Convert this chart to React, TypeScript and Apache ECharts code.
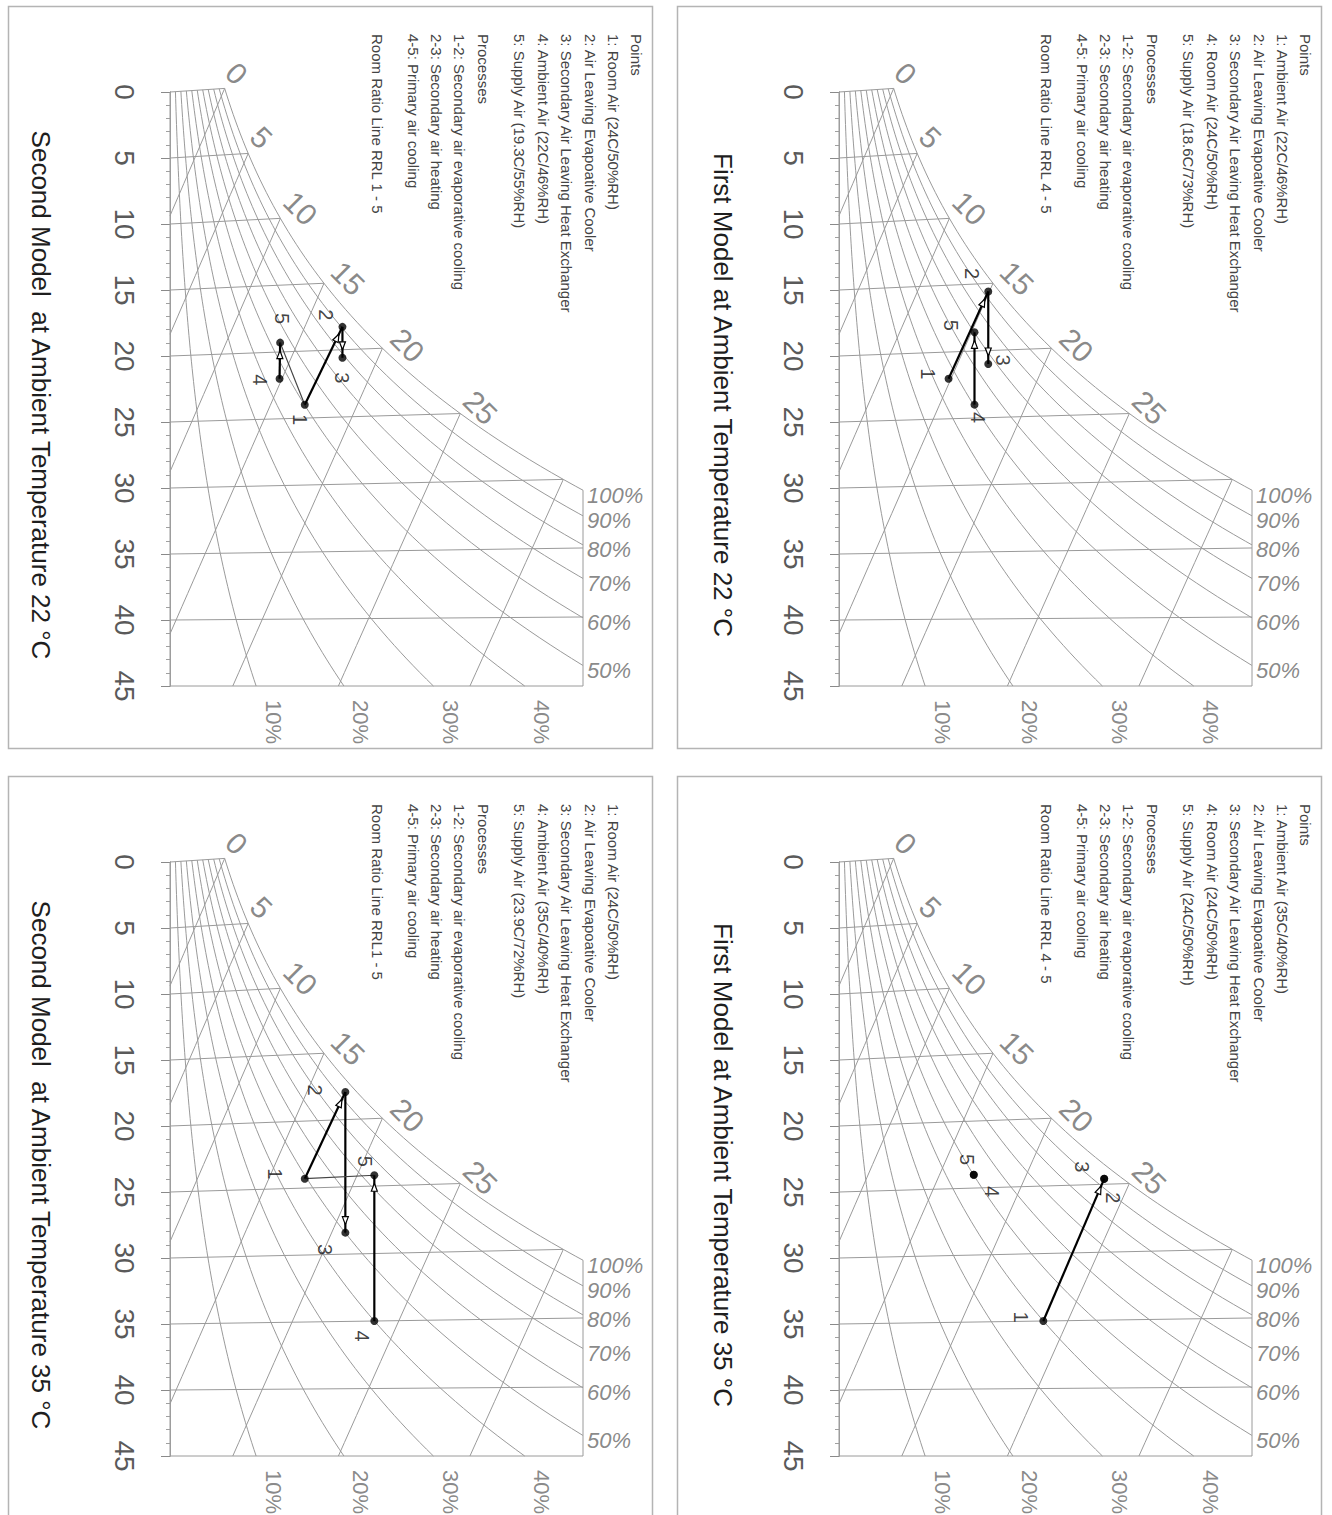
import React, { useEffect, useRef } from 'react';
import * as echarts from 'echarts';

// ---------- chart constants ----------
const W_MAX = 28.5; // humidity ratio at right border, g/kg
const T_MAX = 45;
const TILT = 0.0016;
const DRY_BULB = [0, 5, 10, 15, 20, 25, 30, 35, 40];
const RH_LEVELS = [100, 90, 80, 70, 60, 50, 40, 30, 20, 10];
const RH_RIGHT = [100, 90, 80, 70, 60, 50];
const RH_BOTTOM = [40, 30, 20, 10];
const WET_BULB = [0, 5, 10, 15, 20, 25, 30];
const WET_BULB_LABELED = [0, 5, 10, 15, 20, 25];

const TITLES = [
  'Second Model  at Ambient Temperature 22 °C',
  'First Model at Ambient Temperature 22 °C',
  'Second Model  at Ambient Temperature 35 °C',
  'First Model at Ambient Temperature 35 °C',
];

// ---------- state points: dry bulb °C / humidity ratio g/kg ----------
const TL_T = [24, 18.3, 20.6, 22, 19.3];
const TL_W = [9.3, 11.9, 11.9, 7.56, 7.6];
const TR_T = [22, 15.6, 21.0, 24, 18.6];
const TR_W = [7.56, 10.3, 10.3, 9.35, 9.35];
const BL_T = [24.3, 17.95, 28.4, 35, 24.2];
const BL_W = [9.3, 12.1, 12.1, 14.1, 14.1];
const BR_T = [35, 24.6, 24.6, 24, 24];
const BR_W = [14.1, 18.3, 18.3, 9.3, 9.3];
const POINT_NAMES = ['1', '2', '3', '4', '5'];

// processes: [from, to, kind] kind 0 = process with arrow, 1 = room ratio line
const PROC_TL = [[1, 2, 0], [2, 3, 0], [4, 5, 0], [5, 1, 1]];
const PROC_TR = [[1, 2, 0], [2, 3, 0], [4, 5, 0]];
const PROC_BL = [[1, 2, 0], [2, 3, 0], [4, 5, 0], [1, 5, 1]];
const PROC_BR = [[1, 2, 0]];

const LEGEND_TL = [
  'Points', '1: Room Air (24C/50%RH)', '2: Air Leaving Evapoative Cooler',
  '3: Secondary Air Leaving Heat Exchanger', '4: Ambient Air (22C/46%RH)',
  '5: Supply Air (19.3C/55%RH)', 'Processes', '1-2: Secondary air evaporative cooling',
  '2-3: Secondary air heating', '4-5: Primary air cooling', 'Room Ratio Line RRL 1 - 5',
];
const LEGEND_TR = [
  'Points', '1: Ambient Air (22C/46%RH)', '2: Air Leaving Evapoative Cooler',
  '3: Secondary Air Leaving Heat Exchanger', '4: Room Air (24C/50%RH)',
  '5: Supply Air (18.6C/73%RH)', 'Processes', '1-2: Secondary air evaporative cooling',
  '2-3: Secondary air heating', '4-5: Primary air cooling', 'Room Ratio Line RRL 4 - 5',
];
const LEGEND_BL = [
  '', '1: Room Air (24C/50%RH)', '2: Air Leaving Evapoative Cooler',
  '3: Secondary Air Leaving Heat Exchanger', '4: Ambient Air (35C/40%RH)',
  '5: Supply Air (23.9C/72%RH)', 'Processes', '1-2: Secondary air evaporative cooling',
  '2-3: Secondary air heating', '4-5: Primary air cooling', 'Room Ratio Line RRL1 - 5',
];
const LEGEND_BR = [
  'Points', '1: Ambient Air (35C/40%RH)', '2: Air Leaving Evapoative Cooler',
  '3: Secondary Air Leaving Heat Exchanger', '4: Room Air (24C/50%RH)',
  '5: Supply Air (24C/50%RH)', 'Processes', '1-2: Secondary air evaporative cooling',
  '2-3: Secondary air heating', '4-5: Primary air cooling', 'Room Ratio Line RRL 4 - 5',
];

// ---------- layout / style (not data) ----------
const FONT = "'Liberation Sans', Arial, sans-serif";
const GRID_W = 413;
const GRID_H = 594;
const LEGEND_COLS = [466, 443, 420, 396, 373, 349, 313, 289, 266, 243, 207];
const WB_LABEL_OFF = [[12, -15], [13, -16], [20, -10], [24, -5], [25, -3], [20, -6]];
const LABEL_OFF_TL = [[-5, 15], [-16, -12], [0, 20], [-20, 1], [2, -24]];
const LABEL_OFF_TR = [[-21, -5], [-16, -18], [15, -4], [4, 13], [-23, -7]];
const LABEL_OFF_BL = [[-30, -5], [-30, -2], [-20, 17], [-12, 15], [-9, -14]];
const LABEL_OFF_BR = [[-22, -4], [9, 19], [-22, -12], [18, 17], [-7, -15]];

const PANELS = [
  { left: 170, top: 92, titleX: 41, T: TL_T, W: TL_W, proc: PROC_TL, legend: LEGEND_TL, off: LABEL_OFF_TL },
  { left: 839, top: 92, titleX: 723, T: TR_T, W: TR_W, proc: PROC_TR, legend: LEGEND_TR, off: LABEL_OFF_TR },
  { left: 170, top: 862, titleX: 41, T: BL_T, W: BL_W, proc: PROC_BL, legend: LEGEND_BL, off: LABEL_OFF_BL },
  { left: 839, top: 862, titleX: 723, T: BR_T, W: BR_W, proc: PROC_BR, legend: LEGEND_BR, off: LABEL_OFF_BR },
];

// convert a screen offset into the label's rotated frame
const rotOff = (d: number[], deg: number) => {
  const r = (deg * Math.PI) / 180;
  return [d[0] * Math.cos(r) - d[1] * Math.sin(r), d[0] * Math.sin(r) + d[1] * Math.cos(r)];
};

// ---------- psychrometrics ----------
const psat = (t: number) => 0.61094 * Math.exp((17.625 * t) / (t + 243.04));
const wOf = (t: number, rh: number) => {
  const pv = (psat(t) * rh) / 100;
  return (622 * pv) / (101.325 - pv);
};
const plotY = (t: number, w: number) => t - TILT * (45 - t) * w;
const crossT = (rh: number) => {
  if (wOf(T_MAX, rh) <= W_MAX) return null;
  let lo = 0, hi = T_MAX;
  for (let k = 0; k < 50; k++) {
    const m = (lo + hi) / 2;
    if (wOf(m, rh) > W_MAX) hi = m; else lo = m;
  }
  return (lo + hi) / 2;
};
const rhCurve = (rh: number) => {
  const tc = crossT(rh);
  const tEnd = tc === null ? T_MAX : tc;
  const pts: number[][] = [];
  for (let t = 0; t < tEnd; t += 0.5) {
    const w = wOf(t, rh);
    pts.push([w, plotY(t, w)]);
  }
  const wE = tc === null ? wOf(T_MAX, rh) : W_MAX;
  pts.push([wE, plotY(tEnd, wE)]);
  return pts;
};
const wbW = (t: number, twb: number) => {
  const ws = wOf(twb, 100) / 1000;
  return (((2501 - 2.326 * twb) * ws - 1.006 * (t - twb)) / (2501 + 1.86 * t - 4.186 * twb)) * 1000;
};
const wbCurve = (twb: number) => {
  const ws = wOf(twb, 100) / 1000;
  const t0 = twb + ((2501 - 2.326 * twb) * ws) / 1.006;
  const tEnd = Math.min(t0, T_MAX);
  const pts: number[][] = [];
  for (let t = twb; t < tEnd; t += 1) {
    const w = Math.max(0, wbW(t, twb));
    pts.push([w, plotY(t, w)]);
  }
  const wE = Math.max(0, wbW(tEnd, twb));
  pts.push([wE, plotY(tEnd, wE)]);
  return pts;
};

function chartCurves() {
  const curves: number[][][] = [];
  RH_LEVELS.forEach((rh) => curves.push(rhCurve(rh)));
  DRY_BULB.forEach((t) => {
    const wE = Math.min(wOf(t, 100), W_MAX);
    curves.push([[0, t], [wE, plotY(t, wE)]]);
  });
  WET_BULB.forEach((twb) => curves.push(wbCurve(twb)));
  const tc = crossT(100) as number;
  curves.push([[0, 0], [0, T_MAX]]);
  curves.push([[0, T_MAX], [W_MAX, T_MAX]]);
  curves.push([[W_MAX, plotY(tc, W_MAX)], [W_MAX, T_MAX]]);
  return curves;
}

function buildOption() {
  const grid: any[] = [];
  const xAxis: any[] = [];
  const yAxis: any[] = [];
  const series: any[] = [];
  const graphic: any[] = [];
  const curves = chartCurves();

  PANELS.forEach((p, i) => {
    grid.push({ left: p.left, top: p.top, width: GRID_W, height: GRID_H });
    xAxis.push({ type: 'value', gridIndex: i, min: 0, max: W_MAX, show: false });
    yAxis.push({
      type: 'value', gridIndex: i, min: 0, max: T_MAX, interval: 5, inverse: true, offset: 14,
      axisLine: { show: true, lineStyle: { color: '#8a8a8a', width: 1 } },
      axisTick: { show: true, length: 9, lineStyle: { color: '#8a8a8a' } },
      minorTick: { show: true, splitNumber: 5, length: 4, lineStyle: { color: '#a0a0a0' } },
      splitLine: { show: false },
      axisLabel: { rotate: -90, fontSize: 28, color: '#5a5a5a', margin: 18, fontFamily: FONT },
    });
    xAxis.push({ type: 'value', gridIndex: i, min: 0, max: W_MAX, show: false });

    // frame
    graphic.push({
      type: 'rect', silent: true, z: -1,
      shape: { x: p.left - 162 + 0.5, y: p.top - 86 + 0.5, width: 644, height: 742 },
      style: { fill: 'none', stroke: '#b4b4b4', lineWidth: 1.5 },
    });
    // title
    graphic.push({
      type: 'text', x: p.titleX, y: p.top + 303, rotation: -Math.PI / 2,
      style: { text: TITLES[i], fontSize: 26, fontFamily: FONT, fill: '#1e1e1e', textAlign: 'center', textVerticalAlign: 'middle' },
    });
    // legend
    p.legend.forEach((txt, k) => {
      if (!txt) return;
      graphic.push({
        type: 'text', x: p.left + LEGEND_COLS[k], y: p.top - 58, rotation: -Math.PI / 2,
        style: { text: txt, fontSize: 15, fontFamily: FONT, fill: '#444', textAlign: 'left', textVerticalAlign: 'middle' },
      });
    });

    const xi = i * 2;

    // chart lines
    series.push({
      type: 'lines', coordinateSystem: 'cartesian2d', xAxisIndex: xi, yAxisIndex: i,
      polyline: true, silent: true, clip: false, z: 1,
      lineStyle: { color: '#9a9a9a', width: 1, opacity: 1 },
      data: curves.map((c) => ({ coords: c })),
    });

    // wet-bulb labels
    series.push({
      type: 'scatter', xAxisIndex: xi, yAxisIndex: i, symbolSize: 1, silent: true, clip: false, z: 2,
      itemStyle: { color: 'transparent' },
      label: { show: true, position: 'inside', formatter: '{b}', rotate: -45, fontSize: 30, color: '#6a6a6a', fontFamily: FONT },
      data: WET_BULB_LABELED.map((twb, k) => {
        const w = wOf(twb, 100);
        return { name: String(twb), value: [w, plotY(twb, w)], label: { offset: rotOff(WB_LABEL_OFF[k], -45) } };
      }),
    });

    // RH labels
    series.push({
      type: 'scatter', xAxisIndex: xi, yAxisIndex: i, symbolSize: 1, silent: true, clip: false, z: 2,
      itemStyle: { color: 'transparent' },
      label: { show: true, position: 'inside', formatter: '{b}', fontSize: 22, fontStyle: 'italic', color: '#6a6a6a', fontFamily: FONT, align: 'left', offset: [4, 5] },
      data: RH_RIGHT.map((rh) => {
        const tc = crossT(rh) as number;
        return { name: rh + '%', value: [W_MAX, plotY(tc, W_MAX)] };
      }),
    });
    series.push({
      type: 'scatter', xAxisIndex: xi, yAxisIndex: i, symbolSize: 1, silent: true, clip: false, z: 2,
      itemStyle: { color: 'transparent' },
      label: { show: true, position: 'inside', formatter: '{b}', rotate: -90, fontSize: 22, color: '#6a6a6a', fontFamily: FONT, offset: rotOff([17, 36], -90) },
      data: RH_BOTTOM.map((rh) => ({ name: rh + '%', value: [wOf(T_MAX, rh), T_MAX] })),
    });

    // processes
    const pts = p.T.map((t, k) => [p.W[k], plotY(t, p.W[k])]);
    series.push({
      type: 'custom', xAxisIndex: xi, yAxisIndex: i, silent: true, clip: false, z: 3,
      data: p.proc.map(([a, b, kind]) => [pts[a - 1][0], pts[a - 1][1], pts[b - 1][0], pts[b - 1][1], kind]),
      renderItem: (params: any, api: any) => {
        const p1 = api.coord([api.value(0), api.value(1)]);
        const p2 = api.coord([api.value(2), api.value(3)]);
        const kind = api.value(4);
        const children: any[] = [{
          type: 'line', shape: { x1: p1[0], y1: p1[1], x2: p2[0], y2: p2[1] },
          style: { stroke: kind ? '#444' : '#000', lineWidth: kind ? 1.2 : 2.2 },
        }];
        const dx = p2[0] - p1[0], dy = p2[1] - p1[1];
        const len = Math.sqrt(dx * dx + dy * dy);
        if (!kind && len > 22) {
          const ux = dx / len, uy = dy / len, nx = -uy, ny = ux;
          const tx = p2[0] - ux * 8, ty = p2[1] - uy * 8;
          const bx = tx - ux * 8, by = ty - uy * 8;
          children.push({
            type: 'polygon',
            shape: { points: [[tx, ty], [bx + nx * 3, by + ny * 3], [bx - nx * 3, by - ny * 3]] },
            style: { fill: '#fff', stroke: '#000', lineWidth: 1.2 },
          });
        }
        return { type: 'group', children };
      },
    });

    // points
    series.push({
      type: 'scatter', xAxisIndex: xi, yAxisIndex: i, symbolSize: 8, silent: true, clip: false, z: 4,
      itemStyle: { color: '#000' },
      label: { show: true, position: 'inside', formatter: '{b}', rotate: -90, fontSize: 20, color: '#111', fontFamily: FONT },
      data: pts.map((v, k) => ({ name: POINT_NAMES[k], value: v, label: { offset: rotOff(p.off[k], -90) } })),
    });
  });

  // second ruler line of each temperature scale
  PANELS.forEach((p, i) => {
    yAxis.push({
      type: 'value', gridIndex: i, min: 0, max: T_MAX, interval: 5, inverse: true, offset: 18,
      axisLine: { show: true, lineStyle: { color: '#a0a0a0', width: 1 } },
      axisTick: { show: false }, axisLabel: { show: false }, splitLine: { show: false },
    });
  });

  return { animation: false, backgroundColor: '#fff', grid, xAxis, yAxis, series, graphic };
}

export default function App() {
  const ref = useRef<HTMLDivElement>(null);
  useEffect(() => {
    const chart = echarts.init(ref.current as HTMLDivElement, undefined, { renderer: 'svg' });
    chart.setOption(buildOption() as any);
    return () => chart.dispose();
  }, []);
  return (
    <div
      ref={ref}
      style={{ position: 'absolute', left: 0, top: 0, width: 1332, height: 1515, background: '#fff' }}
    />
  );
}
